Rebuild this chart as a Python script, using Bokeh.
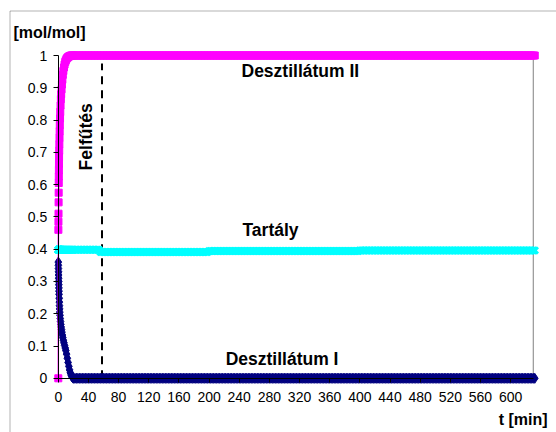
import math
from bokeh.plotting import figure
from bokeh.models import (Range1d, FixedTicker, CustomJSTickFormatter, Label,
                          BoxAnnotation, ColumnDataSource)
from bokeh.core.properties import value
from bokeh.embed import file_html
from bokeh.resources import INLINE

# ---------------- data ----------------
x_ticks = [0, 40, 80, 120, 160, 200, 240, 280, 320, 360, 400, 440, 480, 520, 560, 600]
y_ticks = [0, 0.1, 0.2, 0.3, 0.4, 0.5, 0.6, 0.7, 0.8, 0.9, 1.0]

# early (transient) samples, t in min
t_early = [0, 0.1, 0.2, 0.3, 0.4, 0.5, 0.6, 0.7, 0.8, 0.9, 1.0, 1.2, 1.4, 1.6, 1.8, 2.0,
           2.3, 2.6, 3.0, 3.4, 3.8, 4.3, 4.8, 5.4, 6.0, 6.7, 7.5, 8.3, 9.2, 10,
           11, 12, 13, 14, 15, 16, 17, 18, 19, 20]
# Desztillátum II (magenta)
d2_early = [0, 0.46, 0.485, 0.51, 0.545, 0.575, 0.605, 0.625, 0.645, 0.665, 0.685, 0.705,
            0.725, 0.745, 0.765, 0.785, 0.805, 0.825, 0.845, 0.865, 0.88, 0.895, 0.91,
            0.925, 0.94, 0.952, 0.963, 0.972, 0.98, 0.985, 0.99, 0.993, 0.995, 0.997,
            0.998, 0.999, 1.0, 1.0, 1.0, 1.0]
# Desztillátum I (navy)
d1_early = [0.36, 0.35, 0.34, 0.33, 0.32, 0.31, 0.30, 0.29, 0.28, 0.27, 0.26, 0.248,
            0.236, 0.225, 0.215, 0.205, 0.195, 0.185, 0.176, 0.167, 0.159, 0.151, 0.143,
            0.134, 0.126, 0.118, 0.11, 0.102, 0.094, 0.086, 0.075, 0.062, 0.049, 0.037,
            0.026, 0.017, 0.01, 0.005, 0.002, 0.0]
# Tartály (cyan)
tank_early = [0.398] * len(t_early)

# later samples (plateaus)
t_late = list(range(22, 634, 2))
d2_plateau = 1.0
d1_plateau = 0.0
tank_levels = [(0, 0.398), (56, 0.391), (200, 0.394), (400, 0.396)]  # (from t, value)

heating_t = 58
heating_top = 0.975

def tank_at(t):
    v = tank_levels[0][1]
    for t0, lv in tank_levels:
        if t >= t0:
            v = lv
    return v

t_all = t_early + t_late
d2 = d2_early + [d2_plateau] * len(t_late)
d1 = d1_early + [d1_plateau] * len(t_late)
tank = tank_early + [tank_at(t) for t in t_late]

MAGENTA = "#FF00FF"
NAVY = "#000080"
CYAN = "#00FFFF"
FONT = "Liberation Sans"

# whole canvas is the plot frame; pixel positions measured from canvas top-left
W, H = 556, 432
XS = 0.7539          # px per minute
YS = 322.8           # px per mol/mol
X0_PX, Y0_PX = 57.8, 377.8
x_lo = (0 - X0_PX) / XS
x_hi = (W - X0_PX) / XS
y_lo = (Y0_PX - H) / YS
y_hi = Y0_PX / YS

def px_to_x(px):
    return (px - X0_PX) / XS

def py_to_y(py):
    return (Y0_PX - py) / YS

p = figure(width=W, height=H, x_range=Range1d(x_lo, x_hi), y_range=Range1d(y_lo, y_hi),
           output_backend="svg", toolbar_location=None,
           min_border_left=0, min_border_right=0, min_border_top=0, min_border_bottom=0)
p.outline_line_color = None
p.grid.visible = False

for ax in (p.xaxis, p.yaxis):
    ax.fixed_location = 0
    ax.axis_line_color = "black"
    ax.major_tick_line_color = "black"
    ax.minor_tick_line_color = None
    ax.major_tick_in = 0
    ax.major_label_text_font = FONT
    ax.major_label_text_font_size = "14px"
    ax.major_label_text_color = "black"
p.xaxis.ticker = FixedTicker(ticks=x_ticks)
p.yaxis.ticker = FixedTicker(ticks=y_ticks)
p.xaxis.bounds = (0, 630)
p.yaxis.bounds = (0, 1)
p.xaxis.major_tick_out = 4
p.yaxis.major_tick_out = 5
p.xaxis.major_label_standoff = 10
p.yaxis.major_label_standoff = 6
p.yaxis.formatter = CustomJSTickFormatter(code="return (Math.round(tick*10)/10).toString();")

# plot-area border on the right
p.segment(x0=[630], y0=[0], x1=[630], y1=[1], line_color="#808080", line_width=1)

# heating dashed line
p.segment(x0=[heating_t], y0=[0], x1=[heating_t], y1=[heating_top],
          line_color="black", line_width=2, line_dash="8 6")

src1 = ColumnDataSource(dict(t=t_all, y=d1))
p.line("t", "y", source=src1, line_color=NAVY, line_width=1)
p.scatter("t", "y", source=src1, marker="diamond", size=10, fill_color=NAVY, line_color=NAVY)

src2 = ColumnDataSource(dict(t=t_all, y=d2))
p.line("t", "y", source=src2, line_color=MAGENTA, line_width=1.5)
p.scatter("t", "y", source=src2, marker="square", size=7, fill_color=MAGENTA, line_color=MAGENTA)

src3 = ColumnDataSource(dict(t=t_all, y=tank))
p.line("t", "y", source=src3, line_color=CYAN, line_width=1)
p.scatter("t", "y", source=src3, marker="x", size=9, line_color=CYAN, line_width=3)

txt = dict(text_font=value(FONT), text_font_size="17.5px", text_font_style="bold",
           text_color="black", text_baseline="middle")
p.text(x=[243], y=[0.953], text=["Desztillátum II"], text_align="left", **txt)
p.text(x=[281.5], y=[0.458], text=["Tartály"], text_align="center", **txt)
p.text(x=[222], y=[0.059], text=["Desztillátum I"], text_align="left", **txt)
p.text(x=[37.4], y=[0.748], text=["Felfűtés"], text_align="center", angle=math.pi / 2, **txt)

p.add_layout(Label(x=px_to_x(13), y=py_to_y(32), text="[mol/mol]", text_font=FONT,
                   text_font_size="16px", text_font_style="bold", text_color="black",
                   text_baseline="middle", text_align="left"))
p.add_layout(Label(x=px_to_x(547), y=py_to_y(419), text="t [min]", text_font=FONT,
                   text_font_size="16px", text_font_style="bold", text_color="black",
                   text_baseline="middle", text_align="right"))

# chart-area border (top / left visible)
p.add_layout(BoxAnnotation(left=px_to_x(9.5), right=px_to_x(600), top=py_to_y(10.5),
                           bottom=py_to_y(480), fill_alpha=0, line_color="black",
                           line_width=1))

open("out.html", "w").write(file_html(p, INLINE))
